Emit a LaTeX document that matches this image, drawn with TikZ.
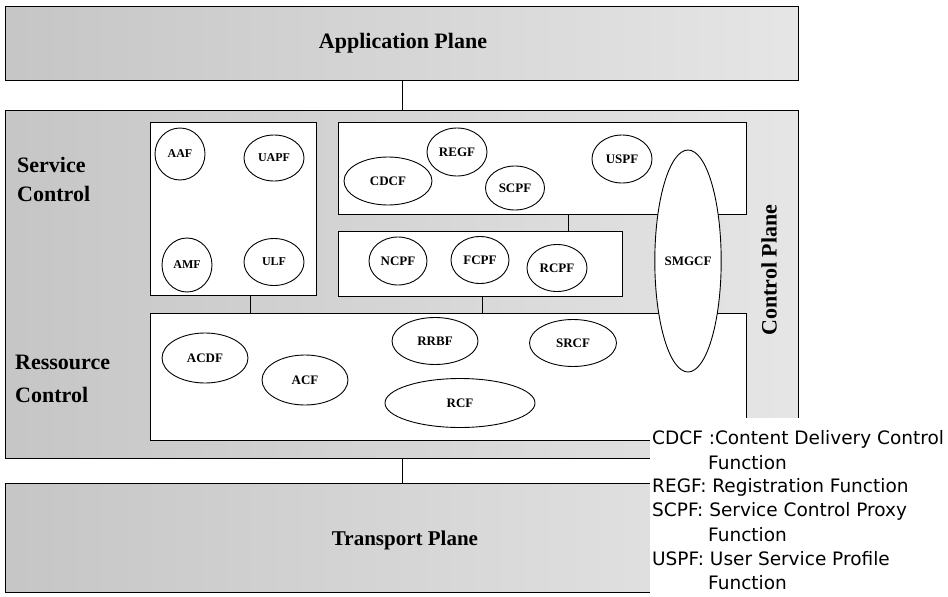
\documentclass[tikz,border=0pt]{standalone}
\usepackage{fontspec}
\setmainfont{Liberation Serif}
\newfontfamily\legfont{DejaVu Sans}
\usetikzlibrary{shapes.geometric}
\begin{document}
\begin{tikzpicture}[x=1pt,y=-1pt,
  plane/.style={rectangle, anchor=north west, inner sep=0pt, draw=black, line width=1.1pt,
                left color=gray!45, right color=gray!20,
                font=\fontsize{22}{24}\selectfont\bfseries},
  inbox/.style={rectangle, anchor=north west, inner sep=0pt, draw=black, line width=1.4pt, fill=white},
  fn/.style={ellipse, draw=black, line width=0.9pt, fill=white, inner sep=0pt,
             font=\fontsize{13}{14}\selectfont\bfseries},
  fns/.style={fn, font=\fontsize{12}{13}\selectfont\bfseries},
  side/.style={anchor=base west, inner sep=0pt,
               font=\fontsize{22}{24}\selectfont\bfseries},
  link/.style={draw=black, line width=0.8pt},
  leg/.style={anchor=west, inner sep=0pt, font=\legfont\fontsize{18.5}{20}\selectfont}
]
\useasboundingbox (0,0) rectangle (948,597);
\fill[white] (0,0) rectangle (948,597);

% planes
\node[plane, minimum width=793pt, minimum height=74pt] (app) at (5,6) {};
\node[font=\fontsize{22}{24}\selectfont\bfseries] (applabel) at (403,43) {Application Plane};
\node[plane, minimum width=793pt, minimum height=348pt] (ctrl) at (5,110) {};
\node[plane, minimum width=793pt, minimum height=109pt] (trans) at (5,483) {};
\node[font=\fontsize{21}{24}\selectfont\bfseries] (translabel) at (405,540) {Transport Plane};

\draw[link] (app.south) -- (ctrl.north);
\draw[link] (ctrl.south) -- (trans.north);

% side labels
\node[side] (svclabel1) at (17,172) {Service};
\node[side] (svclabel2) at (17,201) {Control};
\node[side] (reslabel1) at (15,369) {Ressource};
\node[side] (reslabel2) at (15,402) {Control};

% inner boxes
\node[inbox, minimum width=166pt, minimum height=173pt] (svc) at (150,122) {};
\node[inbox, minimum width=408pt, minimum height=92pt] (top) at (338,122) {};
\node[inbox, minimum width=284pt, minimum height=65pt] (ncp) at (338,231) {};
\node[inbox, minimum width=596pt, minimum height=127pt] (res) at (150,313) {};

\coordinate (c1) at ([xshift=17pt]svc.south);
\coordinate (c2) at ([xshift=2pt]ncp.south);
\coordinate (c3) at ([xshift=26pt]top.south);
\draw[link] (c1) -- (c1 |- res.north);
\draw[link] (c2) -- (c2 |- res.north);
\draw[link] (c3) -- (c3 |- ncp.north);

% service control functions
\node[fns, minimum width=50pt, minimum height=52pt] (aaf) at (180,154) {AAF};
\node[fns, minimum width=60pt, minimum height=46pt] (uapf) at (274,158) {UAPF};
\node[fns, minimum width=50pt, minimum height=54pt] (amf) at (187,265) {AMF};
\node[fns, minimum width=60pt, minimum height=47pt] (ulf) at (274,262) {ULF};

% top box functions
\node[fn, minimum width=88pt, minimum height=48pt] (cdcf) at (388,181) {CDCF};
\node[fn, minimum width=60pt, minimum height=48pt] (regf) at (457,152) {REGF};
\node[fn, minimum width=59pt, minimum height=44pt] (scpf) at (515,188) {SCPF};
\node[fn, minimum width=60pt, minimum height=48pt] (uspf) at (622,159) {USPF};

% middle box functions
\node[fn, minimum width=58pt, minimum height=48pt] (ncpf) at (398,261) {NCPF};
\node[fn, minimum width=58pt, minimum height=47pt] (fcpf) at (480,260) {FCPF};
\node[fn, minimum width=60pt, minimum height=47pt] (rcpf) at (557,268) {RCPF};

% resource functions
\node[fn, minimum width=86pt, minimum height=50pt] (acdf) at (205,358) {ACDF};
\node[fn, minimum width=86pt, minimum height=50pt] (acf) at (305,380) {ACF};
\node[fn, minimum width=86pt, minimum height=47pt] (rrbf) at (435,341) {RRBF};
\node[fn, minimum width=87pt, minimum height=47pt] (srcf) at (573,343) {SRCF};
\node[fn, minimum width=150pt, minimum height=49pt] (rcf) at (460,403) {RCF};

% SMGCF
\node[fn, minimum width=60pt, minimum height=222pt] (smgcf) at (688,261) {SMGCF};

\node[rotate=90, font=\fontsize{22}{24}\selectfont\bfseries, inner sep=0pt] (cplabel) at (769,270) {Control Plane};

% legend
\node[rectangle, fill=white, anchor=north west, minimum width=298pt, minimum height=179pt, inner sep=0pt] (legbg) at (650,418) {};
\node[leg] (l1) at (652,439) {CDCF :Content Delivery Control};
\node[leg] (l2) at (708,463) {Function};
\node[leg] (l3) at (652,487) {REGF: Registration Function};
\node[leg] (l4) at (652,511) {SCPF: Service Control Proxy};
\node[leg] (l5) at (708,535) {Function};
\node[leg] (l6) at (652,559) {USPF: User Service Profile};
\node[leg] (l7) at (708,583) {Function};
\end{tikzpicture}
\end{document}
